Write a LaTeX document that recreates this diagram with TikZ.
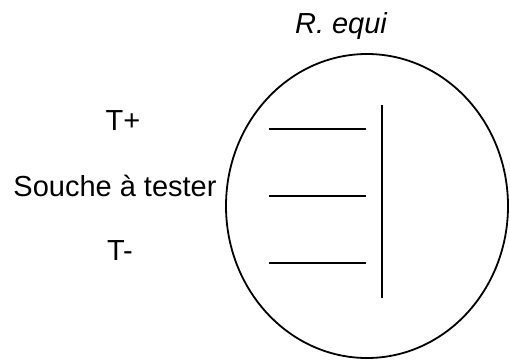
\documentclass[tikz,border=0pt]{standalone}
\usepackage{fontspec}
\setmainfont{Liberation Sans}
\usetikzlibrary{positioning, calc}

\begin{document}
\begin{tikzpicture}[
    x=1pt, y=-1pt,
    lbl/.style={anchor=base, inner sep=0pt, font=\fontsize{29}{34}\selectfont},
    streak/.style={line width=2pt}
]
\useasboundingbox (0,0) rectangle (510,362);

% boite de petri
\draw[line width=1.8pt] (367,206) ellipse [x radius=141, y radius=152];
\node[lbl, font=\fontsize{29}{34}\selectfont\itshape] (title) at (341,33) {R. equi};

% etiquettes
\node[lbl] (tpos) at (123,130) {T+};
\node[lbl] (souche) at (115,196) {Souche \`a tester};
\node[lbl] (tneg) at (120,260) {T-};

% stries
\coordinate (a1) at (269,129); \coordinate (b1) at (366,129);
\coordinate (a2) at (269,196); \coordinate (b2) at (366,196);
\coordinate (a3) at (269,263); \coordinate (b3) at (366,263);
\coordinate (top) at (382,105); \coordinate (bot) at (382,298);

\draw[streak] (a1) -- (b1);
\draw[streak] (a2) -- (b2);
\draw[streak] (a3) -- (b3);
\draw[streak] (top) -- (bot);
\end{tikzpicture}
\end{document}
